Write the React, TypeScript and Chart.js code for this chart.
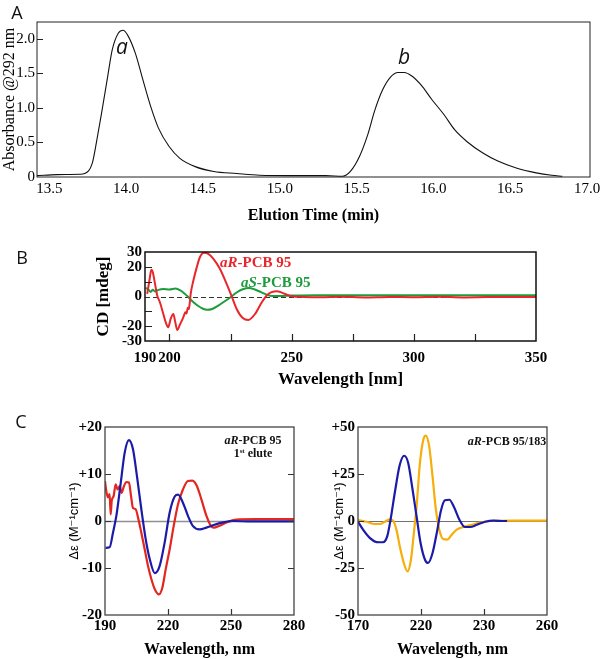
import React, { useEffect, useRef } from "react";
import { Chart, registerables } from "chart.js";
Chart.register(...registerables);

// ---------- Panel A: chromatogram ----------
const elutionTime = [13.40, 13.53, 13.68, 13.71, 13.76, 13.79, 13.82, 13.86, 13.89, 13.93, 13.96, 13.99, 14.04, 14.09, 14.14, 14.19, 14.26, 14.33, 14.43, 14.55, 14.70, 14.85, 15.05, 15.28, 15.39, 15.44, 15.50, 15.55, 15.60, 15.65, 15.70, 15.75, 15.79, 15.84, 15.90, 15.97, 16.05, 16.12, 16.20, 16.30, 16.40, 16.52, 16.65, 16.75, 16.82];
const absorbance = [0.02, 0.035, 0.04, 0.05, 0.2, 0.54, 0.92, 1.45, 1.84, 2.08, 2.12, 2.05, 1.79, 1.40, 1.02, 0.71, 0.44, 0.27, 0.15, 0.08, 0.05, 0.025, 0.02, 0.02, 0.01, 0.08, 0.30, 0.59, 0.97, 1.26, 1.44, 1.51, 1.51, 1.46, 1.33, 1.12, 0.90, 0.68, 0.51, 0.35, 0.23, 0.13, 0.06, 0.025, 0.01];
const aTicksX = [13.5, 14.0, 14.5, 15.0, 15.5, 16.0, 16.5, 17.0];
const aTickLabelsX = ["13.5", "14.0", "14.5", "15.0", "15.5", "16.0", "16.5", "17.0"];
const aTicksY = [0, 0.5, 1.0, 1.5, 2.0];
const aTickLabelsY = ["0", "0.5", "1.0", "1.5", "2.0"];

// ---------- Panel B: CD spectra ----------
const bWavelengthR = [190.9, 191.8, 192.6, 193.2, 194.1, 195.0, 196.1, 197.5, 198.6, 199.5, 200.5, 201.6, 202.4, 203.2, 204.3, 205.4, 206.0, 206.5, 207.0, 207.5, 207.9, 208.3, 208.7, 209.8, 211.2, 212.5, 214.1, 215.9, 218.0, 220.7, 223.4, 225.5, 227.5, 230.0, 232.3, 235.0, 237.8, 239.8, 241.8, 244.0, 246.0, 248.0, 250.0, 255, 262, 270, 280, 290, 300, 310, 320, 330, 340, 350];
const bCdR = [1.8, 10.8, 18.0, 16.4, 8.5, 0.7, -3.9, -11.8, -18.0, -20.7, -15.1, -11.8, -17.4, -22.6, -18.9, -15.1, -12.5, -10.6, -11.5, -7.5, -8.5, -4.5, 1.8, 10.8, 19.8, 26.6, 29.5, 28.8, 25.4, 18.6, 8.5, 0, -8.4, -14.5, -15.8, -11.8, -3.9, 0.7, 2.9, 3.6, 2.6, 1.2, 0.2, -0.3, -0.5, -0.2, -0.6, -0.3, -0.5, -0.2, -0.6, -0.4, -0.3, -0.4];
const bWavelengthS = [190.4, 191.5, 192.3, 193.2, 194.1, 195.5, 197.5, 200.0, 202.5, 204.5, 206.0, 207.5, 209.5, 211.5, 213.5, 215.5, 217.5, 220.0, 222.5, 225.0, 227.5, 230.0, 232.5, 235.0, 237.5, 240.0, 242.0, 245.0, 250, 260, 280, 300, 320, 340, 350];
const bCdS = [5.8, 4.5, 3.1, 4.5, 3.4, 4.5, 5.1, 4.7, 5.4, 4.1, 2.2, 0, -3.4, -6.1, -8.1, -9.0, -8.4, -6.1, -3.4, -0.5, 2.7, 4.9, 5.8, 4.7, 2.9, 1.1, 0.3, 0.3, 0.6, 0.9, 0.9, 0.9, 0.9, 0.9, 0.9];
const bTicksX = [190, 200, 225, 250, 275, 300, 325, 350];
const bTickLabelsX = ["190", "200", "", "250", "", "300", "", "350"];
const bTicksY = [-30, -20, -10, 0, 10, 20, 30];
const bTickLabelsY = ["-30", "-20", "", "0", "", "20", "30"];

// ---------- Panel C left: aR-PCB 95, 1st elute ----------
const cLeftWavelengthBlue = [190.3, 192.2, 193.8, 195.4, 197.3, 199.4, 201.4, 203.3, 205.2, 207.3, 209.4, 211.3, 213.7, 216.0, 218.4, 220.8, 223.2, 224.8, 227.1, 229.5, 231.9, 235.1, 238.3, 242.2, 246.2, 251, 260, 270, 280];
const cLeftBlue = [-5.7, -5.6, -2.5, 1.1, 7.4, 14.6, 17.2, 15.3, 9.6, 2.5, -3.9, -8.1, -11.1, -9.6, -4.6, 1.8, 5.2, 5.6, 3.9, 1.1, -1.1, -1.8, -1.4, -0.8, -0.3, 0, -0.1, -0.1, -0.1];
const cLeftWavelengthRed = [190.0, 190.6, 191.4, 192.2, 192.7, 193.2, 194.1, 195.1, 196.0, 197.0, 197.9, 199.0, 200.2, 201.4, 202.4, 203.3, 204.6, 205.9, 207.3, 208.9, 210.5, 212.1, 213.7, 215.7, 217.3, 218.9, 220.8, 222.7, 224.8, 227.1, 229.5, 231.6, 233.8, 235.9, 238.3, 240.7, 242.2, 244.6, 247.8, 252.6, 262, 270, 280];
const cLeftRed = [8.5, 6.4, 5.0, 5.7, 1.4, 4.3, 5.3, 7.8, 6.7, 7.4, 6.0, 7.4, 8.3, 8.2, 5.3, 2.8, 2.5, 0.4, -2.5, -6.0, -9.6, -12.4, -14.5, -15.6, -14.2, -10.3, -6.0, -1.1, 3.6, 6.7, 8.5, 8.6, 7.4, 4.6, 1.1, -1.2, -1.4, -1.0, -0.3, 0.3, 0.4, 0.4, 0.4];
const cLeftTicksX = [190, 220, 250, 280];
const cLeftTickLabelsX = ["190", "220", "250", "280"];
const cLeftTicksY = [-20, -10, 0, 10, 20];
const cLeftTickLabelsY = ["-20", "-10", "0", "+10", "+20"];

// ---------- Panel C right: aR-PCB 95/183 ----------
const cRightWavelengthBlue = [170, 172.4, 175.6, 178.8, 181.9, 183.9, 185.5, 187.5, 189.9, 192.0, 193.9, 196.0, 197.9, 199.8, 201.9, 203.4, 205.5, 207.5, 209.4, 211.4, 213.5, 215.7, 218.3, 221.0, 223.4, 226.6, 230.5, 234.5, 239.3, 241];
const cRightBlue = [-0.4, -4.6, -9.0, -11.2, -11.3, -8.2, 0.7, 14.9, 29.9, 34.7, 30.9, 16.6, 2.4, -11.7, -20.6, -22.3, -17.0, -6.4, 5.1, 11.0, 11.3, 7.4, 0.7, -3.2, -3.2, -2.0, -0.4, 0.2, 0, 0];
const cRightWavelengthOrange = [170, 174, 178, 180.4, 182.8, 185.1, 186.7, 188.3, 189.9, 191.8, 193.6, 195.2, 196.6, 197.9, 199.5, 201.1, 202.3, 203.9, 205.5, 207.1, 208.7, 210.6, 212.5, 214.6, 217.0, 220.2, 224.2, 228.1, 232.9, 244, 260];
const cRightOrange = [0.5, -0.4, -1.6, -1.6, -0.4, 0.9, 0.2, -4.6, -13.5, -22.3, -26.8, -20.6, -6.4, 7.8, 30.9, 43.2, 45.4, 39.7, 23.7, 6.0, -4.6, -9.6, -9.9, -7.3, -4.6, -3.2, -2.0, -0.9, 0, 0.2, 0.2];
const cRightTicksX = [170, 200, 230, 260];
const cRightTickLabelsX = ["170", "220", "230", "260"];
const cRightTicksY = [-50, -25, 0, 25, 50];
const cRightTickLabelsY = ["-50", "-25", "0", "+25", "+50"];

const SERIF = "'Liberation Serif', 'Times New Roman', serif";
const SANS = "'Liberation Sans', 'DejaVu Sans', Arial, sans-serif";
const LETTER = "'Open Sans', 'Noto Sans', sans-serif";

type Series = { x: number[]; y: number[]; color: string; width: number };
type Deco = {
  frameColor: string;
  frameWidth: number;
  tickLen: number;
  tickColor: string;
  xMarks: number[];
  yMarks: number[];
  yMarksRight?: boolean;
  zero?: { color: string; width: number; dash: number[] };
};
type Panel = {
  series: Series[];
  xMin: number; xMax: number; yMin: number; yMax: number;
  xTicks: number[]; xLabels: string[];
  yTicks: number[]; yLabels: string[];
  tickFont: any; xTickPad: number; yTickPad: number; xLabelOffset: number;
  xTitle: string; xTitleFont: any; xTitlePadBottom: number;
  yTitle: string; yTitleFont: any; yTitlePadTop: number;
  padding: { left: number; top: number; right: number; bottom: number };
  yWidth: number; xHeight: number;
  deco: Deco;
};

function makeDeco(d: Deco) {
  return {
    id: "deco",
    beforeDatasetsDraw(chart: any) {
      if (!d.zero) return;
      const { ctx, chartArea: a, scales } = chart;
      const y = Math.round(scales.y.getPixelForValue(0)) + 0.5;
      ctx.save();
      ctx.strokeStyle = d.zero.color;
      ctx.lineWidth = d.zero.width;
      ctx.setLineDash(d.zero.dash);
      ctx.beginPath();
      ctx.moveTo(a.left, y);
      ctx.lineTo(a.right, y);
      ctx.stroke();
      ctx.restore();
    },
    afterDraw(chart: any) {
      const { ctx, chartArea: a, scales } = chart;
      ctx.save();
      ctx.strokeStyle = d.tickColor;
      ctx.lineWidth = 1.2;
      ctx.beginPath();
      for (const v of d.yMarks) {
        const y = Math.round(scales.y.getPixelForValue(v)) + 0.5;
        ctx.moveTo(a.left, y);
        ctx.lineTo(a.left + d.tickLen, y);
        if (d.yMarksRight) {
          ctx.moveTo(a.right, y);
          ctx.lineTo(a.right - d.tickLen, y);
        }
      }
      for (const v of d.xMarks) {
        const x = Math.round(scales.x.getPixelForValue(v)) + 0.5;
        ctx.moveTo(x, a.bottom);
        ctx.lineTo(x, a.bottom - d.tickLen);
      }
      ctx.stroke();
      ctx.strokeStyle = d.frameColor;
      ctx.lineWidth = d.frameWidth;
      ctx.strokeRect(a.left, a.top, a.right - a.left, a.bottom - a.top);
      ctx.restore();
    },
  };
}

function buildConfig(p: Panel): any {
  return {
    type: "line",
    data: {
      datasets: p.series.map((s) => ({
        data: s.x.map((x, i) => ({ x, y: s.y[i] })),
        borderColor: s.color,
        borderWidth: s.width,
        pointRadius: 0,
        fill: false,
        cubicInterpolationMode: "monotone",
        borderJoinStyle: "round",
      })),
    },
    options: {
      responsive: false,
      animation: false,
      events: [],
      layout: { padding: p.padding },
      plugins: { legend: { display: false }, tooltip: { enabled: false } },
      scales: {
        x: {
          type: "linear",
          min: p.xMin,
          max: p.xMax,
          grid: { display: false, drawTicks: false },
          border: { display: false },
          afterBuildTicks: (s: any) => {
            s.ticks = p.xTicks.map((v) => ({ value: v }));
          },
          afterFit: (s: any) => {
            s.height = p.xHeight;
            s.paddingLeft = 0;
            s.paddingRight = 0;
          },
          ticks: {
            autoSkip: false,
            maxRotation: 0,
            minRotation: 0,
            padding: p.xTickPad,
            labelOffset: p.xLabelOffset,
            color: "#000",
            font: p.tickFont,
            callback: (_v: any, i: number) => p.xLabels[i],
          },
          title: {
            display: true,
            text: p.xTitle,
            color: "#000",
            font: p.xTitleFont,
            padding: { top: 0, bottom: p.xTitlePadBottom },
          },
        },
        y: {
          type: "linear",
          min: p.yMin,
          max: p.yMax,
          grid: { display: false, drawTicks: false },
          border: { display: false },
          afterBuildTicks: (s: any) => {
            s.ticks = p.yTicks.map((v) => ({ value: v }));
          },
          afterFit: (s: any) => {
            s.width = p.yWidth;
            s.paddingTop = 0;
            s.paddingBottom = 0;
          },
          ticks: {
            autoSkip: false,
            padding: p.yTickPad,
            color: "#000",
            font: p.tickFont,
            callback: (_v: any, i: number) => p.yLabels[i],
          },
          title: {
            display: true,
            text: p.yTitle,
            color: "#000",
            font: p.yTitleFont,
            padding: { top: p.yTitlePadTop, bottom: 0 },
          },
        },
      },
    },
    plugins: [makeDeco(p.deco)],
  };
}

const panelA: Panel = {
  series: [{ x: elutionTime, y: absorbance, color: "#111", width: 1.1 }],
  xMin: 13.4, xMax: 17.0, yMin: 0, yMax: 2.24,
  xTicks: aTicksX, xLabels: aTickLabelsX, yTicks: aTicksY, yLabels: aTickLabelsY,
  tickFont: { family: SERIF, size: 15 }, xTickPad: 3, yTickPad: 2, xLabelOffset: -3,
  xTitle: "Elution Time (min)", xTitleFont: { family: SERIF, size: 16, weight: "bold" }, xTitlePadBottom: 4,
  yTitle: "Absorbance @292 nm", yTitleFont: { family: SERIF, size: 16 }, yTitlePadTop: 0,
  padding: { left: 0, top: 22, right: 10, bottom: 0 },
  yWidth: 37, xHeight: 52,
  deco: { frameColor: "#222", frameWidth: 1, tickLen: 6, tickColor: "#222", xMarks: [], yMarks: [0.5, 1.0, 1.5, 2.0] },
};

const panelB: Panel = {
  series: [
    { x: bWavelengthR, y: bCdR, color: "#e8262b", width: 2 },
    { x: bWavelengthS, y: bCdS, color: "#1e9b3c", width: 2 },
  ],
  xMin: 190, xMax: 350, yMin: -30, yMax: 30,
  xTicks: bTicksX, xLabels: bTickLabelsX, yTicks: bTicksY, yLabels: bTickLabelsY,
  tickFont: { family: SERIF, size: 15, weight: "bold" }, xTickPad: 8, yTickPad: 3, xLabelOffset: 0,
  xTitle: "Wavelength [nm]", xTitleFont: { family: SERIF, size: 17, weight: "bold" }, xTitlePadBottom: 4,
  yTitle: "CD [mdeg]", yTitleFont: { family: SERIF, size: 17, weight: "bold" }, yTitlePadTop: 93,
  padding: { left: 0, top: 12, right: 64, bottom: 0 },
  yWidth: 145, xHeight: 53,
  deco: {
    frameColor: "#111", frameWidth: 1.5, tickLen: 7, tickColor: "#222",
    xMarks: [200, 225, 250, 275, 300, 325], yMarks: [-20, -10, 10, 20],
    zero: { color: "#333", width: 1, dash: [5, 3] },
  },
};

const panelCLeft: Panel = {
  series: [
    { x: cLeftWavelengthBlue, y: cLeftBlue, color: "#1b1ba8", width: 2.2 },
    { x: cLeftWavelengthRed, y: cLeftRed, color: "#e3261f", width: 2.2 },
  ],
  xMin: 190, xMax: 280, yMin: -20, yMax: 20,
  xTicks: cLeftTicksX, xLabels: cLeftTickLabelsX, yTicks: cLeftTicksY, yLabels: cLeftTickLabelsY,
  tickFont: { family: SERIF, size: 15, weight: "bold" }, xTickPad: 2, yTickPad: 3, xLabelOffset: 0,
  xTitle: "Wavelength, nm", xTitleFont: { family: SERIF, size: 16, weight: "bold" }, xTitlePadBottom: 0,
  yTitle: "Δε (M⁻¹cm⁻¹)", yTitleFont: { family: SANS, size: 13 }, yTitlePadTop: 67,
  padding: { left: 0, top: 27, right: 36, bottom: 0 },
  yWidth: 105, xHeight: 44,
  deco: {
    frameColor: "#444", frameWidth: 1.3, tickLen: 6, tickColor: "#333",
    xMarks: [220, 250], yMarks: [-10, 0, 10], yMarksRight: true,
    zero: { color: "#909090", width: 1.5, dash: [] },
  },
};

const panelCRight: Panel = {
  series: [
    { x: cRightWavelengthBlue, y: cRightBlue, color: "#1b1ba8", width: 2.2 },
    { x: cRightWavelengthOrange, y: cRightOrange, color: "#f5ae0a", width: 2.2 },
  ],
  xMin: 170, xMax: 260, yMin: -50, yMax: 50,
  xTicks: cRightTicksX, xLabels: cRightTickLabelsX, yTicks: cRightTicksY, yLabels: cRightTickLabelsY,
  tickFont: { family: SERIF, size: 15, weight: "bold" }, xTickPad: 2, yTickPad: 3, xLabelOffset: 0,
  xTitle: "Wavelength, nm", xTitleFont: { family: SERIF, size: 16, weight: "bold" }, xTitlePadBottom: 0,
  yTitle: "Δε (M⁻¹cm⁻¹)", yTitleFont: { family: SANS, size: 13 }, yTitlePadTop: 32,
  padding: { left: 0, top: 27, right: 53, bottom: 0 },
  yWidth: 58, xHeight: 44,
  deco: {
    frameColor: "#444", frameWidth: 1.3, tickLen: 6, tickColor: "#333",
    xMarks: [200, 230], yMarks: [-25, 0, 25],
    zero: { color: "#707070", width: 1.2, dash: [] },
  },
};

function ChartBox(props: { panel: Panel; left: number; top: number; width: number; height: number }) {
  const ref = useRef<HTMLCanvasElement>(null);
  useEffect(() => {
    const chart = new Chart(ref.current as HTMLCanvasElement, buildConfig(props.panel));
    return () => chart.destroy();
  }, []);
  return (
    <canvas
      ref={ref}
      width={props.width}
      height={props.height}
      style={{ position: "absolute", left: props.left, top: props.top, width: props.width, height: props.height }}
    />
  );
}

function Label(props: { x: number; y: number; children: any; style?: any; anchor?: "center" | "left" }) {
  const tx = props.anchor === "left" ? "0" : "-50%";
  return (
    <div
      style={{
        position: "absolute",
        left: props.x,
        top: props.y,
        transform: `translate(${tx}, -50%)`,
        whiteSpace: "nowrap",
        lineHeight: 1,
        ...props.style,
      }}
    >
      {props.children}
    </div>
  );
}

export default function App() {
  const letter = { font: `400 18px ${LETTER}`, color: "#111" };
  return (
    <div style={{ position: "absolute", left: 0, top: 0, width: 600, height: 659, background: "#fff", overflow: "hidden" }}>
      <ChartBox panel={panelA} left={0} top={0} width={600} height={229} />
      <ChartBox panel={panelB} left={0} top={240} width={600} height={154} />
      <ChartBox panel={panelCLeft} left={0} top={400} width={330} height={259} />
      <ChartBox panel={panelCRight} left={300} top={400} width={300} height={259} />

      <Label x={17} y={12} style={letter}>A</Label>
      <Label x={22} y={257} style={letter}>B</Label>
      <Label x={21} y={421} style={letter}>C</Label>

      <Label x={122} y={46} style={{ font: `italic 400 21px ${LETTER}`, color: "#111" }}>a</Label>
      <Label x={404} y={56} style={{ font: `italic 400 21px ${LETTER}`, color: "#111" }}>b</Label>

      <Label x={220} y={262} anchor="left" style={{ font: `bold 15px ${SERIF}`, color: "#e8262b" }}>
        <i>aR</i>-PCB 95
      </Label>
      <Label x={241} y={282} anchor="left" style={{ font: `bold 15px ${SERIF}`, color: "#1e9b3c" }}>
        <i>aS</i>-PCB 95
      </Label>

      <Label x={253} y={440} style={{ font: `bold 12px ${SERIF}`, color: "#111" }}>
        <i>aR</i>-PCB 95
      </Label>
      <Label x={253} y={453} style={{ font: `bold 12px ${SERIF}`, color: "#111" }}>
        1<span style={{ fontSize: 7, position: "relative", top: -4 }}>st</span> elute
      </Label>
      <Label x={507} y={441} style={{ font: `bold 12px ${SERIF}`, color: "#111" }}>
        <i>aR</i>-PCB 95/183
      </Label>
    </div>
  );
}
